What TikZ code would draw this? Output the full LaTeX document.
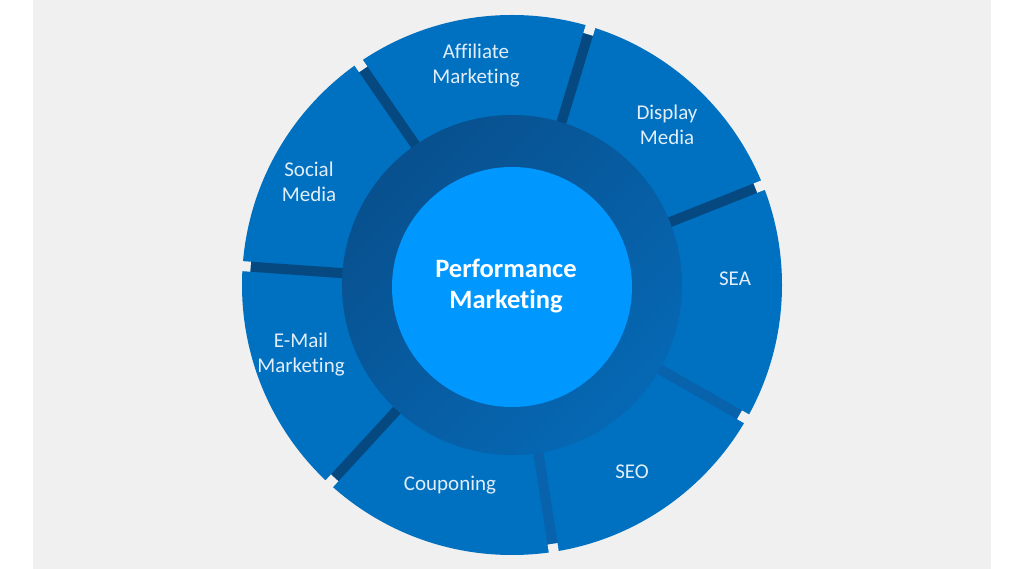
\documentclass[tikz,border=0pt]{standalone}
\usepackage{fontspec}
\setmainfont[Ligatures={NoCommon}]{Carlito}
\definecolor{segblue}{RGB}{0,112,192}
\definecolor{ringblue}{RGB}{8,80,142}
\definecolor{ringlight}{RGB}{6,104,180}
\definecolor{bardark}{RGB}{6,72,128}
\definecolor{barsoft}{RGB}{8,98,172}
\definecolor{coreblue}{RGB}{0,152,255}
\definecolor{labelwhite}{RGB}{225,238,250}
\definecolor{bggray}{RGB}{240,240,240}
\tikzset{
  seglabel/.style={text=labelwhite, font=\fontsize{21}{25}\selectfont, align=center},
  corelabel/.style={text=white, font=\fontsize{26.5}{31}\selectfont\bfseries, align=center},
}
\begin{document}
\begin{tikzpicture}[x=1pt,y=1pt]
	\useasboundingbox (-512,-284) rectangle (512,285);
	\fill[white] (-512,-284) rectangle (512,285);
	\fill[bggray] (-479,-284) rectangle (479,285);
	\fill[segblue] (0,0) circle(270);
	\foreach \a/\c in {176/bardark,124.6/bardark,73.1/bardark,21.7/bardark,-29.7/barsoft,-81.1/barsoft,-132.6/bardark}{
		\draw[\c, line width=10pt] (\a:165) -- (\a:262);
		\draw[bggray, line width=10pt] (\a:262) -- (\a:272);
	}
	\shade[left color=ringblue, right color=ringlight, shading angle=45] (0,0) circle(170);
	\node[circle, fill=coreblue, minimum size=240pt, inner sep=0pt] (core) at (0,-2) {};
	\node[corelabel] (perf) at (-6,-1) {Performance\\Marketing};
	\node[seglabel] (affiliate) at (-36,219) {Affiliate\\Marketing};
	\node[seglabel] (display) at (155,160) {Display\\Media};
	\node[seglabel] (sea) at (223,6) {SEA};
	\node[seglabel] (seo) at (120,-187) {SEO};
	\node[seglabel] (couponing) at (-62,-200) {Couponing};
	\node[seglabel] (email) at (-211,-70) {E-Mail\\Marketing};
	\node[seglabel] (social) at (-203,103) {Social\\Media};
\end{tikzpicture}
\end{document}
